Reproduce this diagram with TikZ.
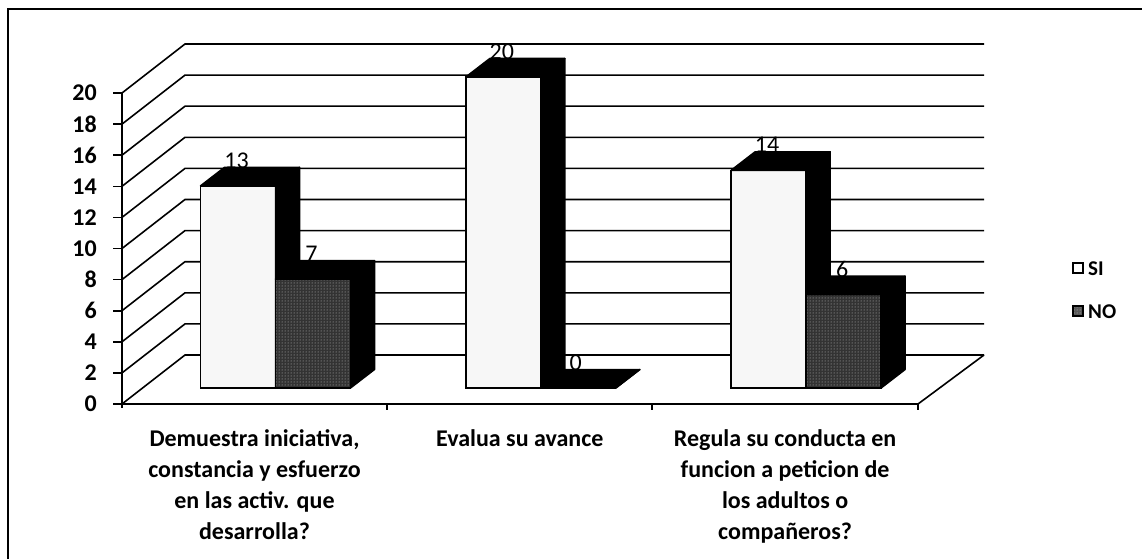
\documentclass[tikz,border=0pt]{standalone}
\usepackage{fontspec}
\setmainfont{Carlito}
\usetikzlibrary{patterns}
\newcommand{\mybar}[3]{%
  \pgfmathsetmacro{\xa}{#1+21}%
  \pgfmathsetmacro{\xb}{#1+96}%
  \pgfmathsetmacro{\xc}{#1+45}%
  \pgfmathsetmacro{\xd}{#1+120}%
  \pgfmathsetmacro{\ya}{388-15.55*#2}%
  \pgfmathsetmacro{\yb}{369.5-15.55*#2}%
  \path[#3] (\xa,\ya) rectangle (\xb,388);
  \path[shade3d] (\xa,\ya) -- (\xb,\ya) -- (\xd,\yb) -- (\xc,\yb) -- cycle;
  \path[shade3d] (\xb,388) -- (\xb,\ya) -- (\xd,\yb) -- (\xd,369.5) -- cycle;
}
\begin{document}
\begin{tikzpicture}[x=1pt,y=-1pt,
  grid/.style={line width=1.6pt},
  axisline/.style={line width=1.6pt},
  sibar/.style={fill=gray!6, draw=black, line width=1.5pt},
  nobar/.style={preaction={fill=black!80}, pattern=dots, pattern color=gray!45, draw=black, line width=1.5pt},
  shade3d/.style={fill=black, draw=black, line width=1.5pt, line join=round},
  ticklbl/.style={font=\fontsize{24}{29}\selectfont\bfseries, anchor=east, inner sep=0pt},
  catlbl/.style={font=\fontsize{24}{31}\selectfont\bfseries, align=center, anchor=north, inner sep=0pt},
  vallbl/.style={font=\fontsize{24}{28}\selectfont, anchor=base, inner sep=0pt},
  leglbl/.style={font=\fontsize{21}{25}\selectfont\bfseries, anchor=base west, inner sep=0pt},
  legbox/.style={draw=black, line width=1.4pt}]
\useasboundingbox (0,0) rectangle (1142,559);
\fill[white] (0,0) rectangle (1142,559);
% frame
\draw[line width=1.2pt] (8,559) -- (8,9) -- (1142,9);
% back wall gridlines and y ticks
\foreach \v in {0,2,...,20}{
  \pgfmathsetmacro{\yf}{404-15.55*\v}
  \pgfmathsetmacro{\yk}{\yf-49}
  \draw[grid] (122,\yf) -- (185,\yk) -- (984,\yk);
  \draw[axisline] (113,\yf) -- (122,\yf);
  \node[ticklbl] (t\v) at (97,\yf) {\v};
}
% axes and floor
\draw[axisline] (122,93) -- (122,408);
\draw[axisline] (122,404) -- (918,404) -- (984,355);
\foreach \x in {387,652,918}{\draw[axisline] (\x,404) -- (\x,410);}
% bars
\mybar{179.5}{13}{sibar}
\mybar{254.5}{7}{nobar}
\mybar{444.8}{20}{sibar}
\mybar{519.8}{0}{nobar}
\mybar{710.1}{14}{sibar}
\mybar{785.1}{6}{nobar}
% value labels
\node[vallbl] (v1) at (236.5,{370.5-15.55*13}) {13};
\node[vallbl] (v2) at (311.5,{370.5-15.55*7}) {7};
\node[vallbl] (v3) at (501.8,{370.5-15.55*20}) {20};
\node[vallbl] (v4) at (575.8,370.5) {0};
\node[vallbl] (v5) at (767.1,{370.5-15.55*14}) {14};
\node[vallbl] (v6) at (842.1,{370.5-15.55*6}) {6};
% category labels
\node[catlbl] (c1) at (254.5,429) {Demuestra iniciativa,\\constancia y esfuerzo\\en las activ. que\\desarrolla?};
\node[catlbl] (c2) at (519.8,429) {Evalua su avance};
\node[catlbl] (c3) at (785.1,429) {Regula su conducta en\\funcion a peticion de\\los adultos o\\compañeros?};
% legend
\draw[legbox, fill=white] (1073,263) rectangle (1083,273);
\node[leglbl] (lsi) at (1088,275.5) {SI};
\draw[legbox, preaction={fill=black!65}, pattern=dots, pattern color=gray!40] (1073,306) rectangle (1083,316);
\node[leglbl] (lno) at (1088,318.5) {NO};
\end{tikzpicture}
\end{document}
